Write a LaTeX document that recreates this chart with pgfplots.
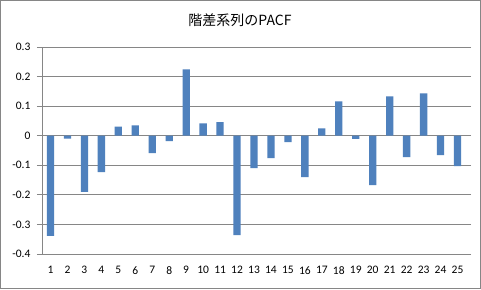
\documentclass[border=0pt]{standalone}
\usepackage{pgfplots}
\pgfplotsset{compat=1.18}
\usepackage{fontspec}
\setmainfont{Carlito}
\newfontfamily\cjk{Noto Sans CJK JP}
\definecolor{barblue}{HTML}{4F81BD}
\definecolor{gridgray}{HTML}{868686}
\begin{document}
\begin{tikzpicture}[x=1pt,y=1pt]
\draw[draw=gridgray,fill=white,line width=1pt] (0.5,0.5) rectangle (480.5,288.5);
\node[font=\cjk\fontsize{14}{16}\selectfont] at (240,269) {階差系列のPACF};
\begin{axis}[
  at={(42pt,35pt)}, anchor=south west,
  scale only axis, width=424pt, height=207pt,
  xmin=0.5, xmax=25.5, ymin=-0.4, ymax=0.3,
  ytick={-0.4,-0.3,...,0.3},
  xtick={1,...,25},
  axis line style={draw=none},
  ymajorgrids, grid style={gridgray, line width=0.8pt},
  tick align=outside, major tick length=5pt,
  ytick style={gridgray, line width=0.8pt},
  xtick style={draw=none},
  /pgf/number format/assume math mode=true,
  yticklabel={\pgfmathprintnumber[fixed,precision=1]{\tick}},
  ticklabel style={font=\fontsize{11.5}{13}\selectfont, text=black},
  yticklabel style={xshift=-3pt},
  xticklabel style={yshift=-4pt},
  clip=false,
]
\draw[gridgray, line width=0.8pt] (axis cs:0.5,-0.4) -- (axis cs:0.5,0.3);
\addplot[ybar, bar width=7.3pt, fill=barblue, draw=none] coordinates {
(1,-0.339) (2,-0.010) (3,-0.190) (4,-0.123) (5,0.031)
(6,0.035) (7,-0.059) (8,-0.018) (9,0.224) (10,0.042)
(11,0.046) (12,-0.336) (13,-0.110) (14,-0.076) (15,-0.022)
(16,-0.140) (17,0.025) (18,0.116) (19,-0.011) (20,-0.167)
(21,0.133) (22,-0.072) (23,0.143) (24,-0.066) (25,-0.103)
};
\end{axis}
\end{tikzpicture}
\end{document}
